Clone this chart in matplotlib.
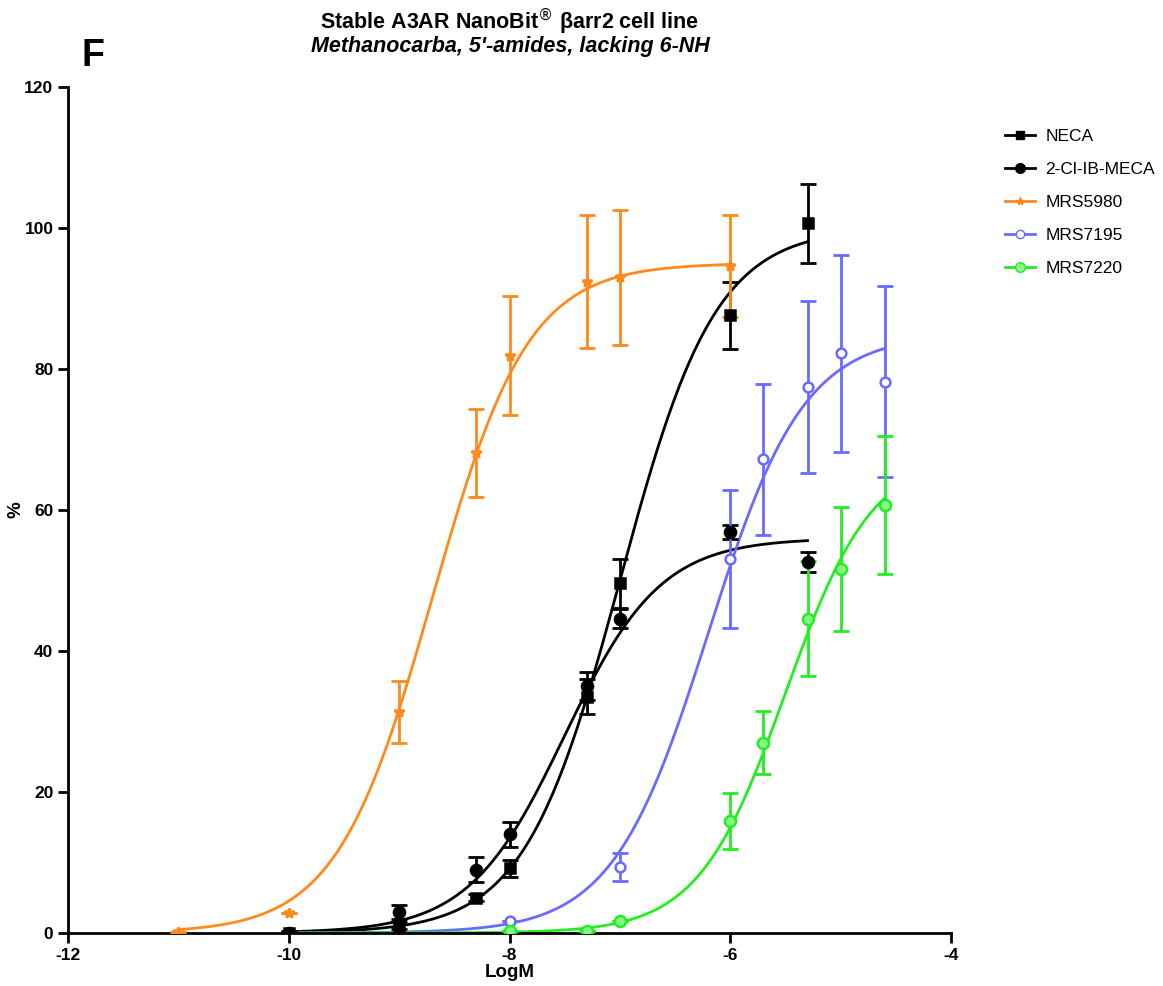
import numpy as np
import matplotlib
matplotlib.use('Agg')
import matplotlib.pyplot as plt

plt.rcParams['font.family'] = ['Liberation Sans', 'DejaVu Sans']
plt.rcParams['axes.unicode_minus'] = False

# measured points (x = log M, y = %, err = SEM)
neca_x = [-10, -9, -8.3, -8, -7.3, -7, -6, -5.3]
neca_y = [0, 1.0, 5.0, 9.2, 33.5, 49.6, 87.6, 100.7]
neca_e = [0.3, 0.5, 0.5, 1.2, 2.5, 3.5, 4.7, 5.6]

clib_x = [-10, -9, -8.3, -8, -7.3, -7, -6, -5.3]
clib_y = [0, 3.0, 9.0, 14.0, 35.0, 44.6, 56.9, 52.6]
clib_e = [0.3, 1.0, 1.8, 1.8, 2.0, 1.4, 1.0, 1.4]

m5980_x = [-11, -10, -9, -8.3, -8, -7.3, -7, -6]
m5980_y = [0.2, 2.8, 31.4, 68.1, 81.9, 92.4, 93.0, 94.6]
m5980_e = [0.0, 0.0, 4.4, 6.2, 8.5, 9.4, 9.6, 7.2]

m7195_x = [-8, -7, -6, -5.7, -5.3, -5, -4.6]
m7195_y = [1.7, 9.3, 53.0, 67.2, 77.4, 82.2, 78.2]
m7195_e = [0.0, 2.0, 9.8, 10.7, 12.2, 14.0, 13.5]

m7220_x = [-8, -7.3, -7, -6, -5.7, -5.3, -5, -4.6]
m7220_y = [0.3, 0.3, 1.7, 15.9, 27.0, 44.6, 51.6, 60.7]
m7220_e = [0.0, 0.0, 0.0, 4.0, 4.5, 8.1, 8.8, 9.8]

# fitted sigmoid parameters: bottom, top, logEC50, hill, x range of fit line
neca_fit = [0, 100, -7.0, 1.0, -10, -5.3]
clib_fit = [0, 56, -7.5, 1.0, -10, -5.3]
m5980_fit = [0, 95, -8.7, 1.0, -11, -6]
m7195_fit = [0, 85, -6.2, 1.0, -10, -4.6]
m7220_fit = [0, 68, -5.5, 1.1, -10, -4.6]


def hill(x, bottom, top, ec50, n):
    return bottom + (top - bottom) / (1 + 10 ** ((ec50 - x) * n))


series = [
    ('NECA', neca_x, neca_y, neca_e, neca_fit, 'black', 's', 'black', 7),
    ('2-Cl-IB-MECA', clib_x, clib_y, clib_e, clib_fit, 'black', 'o', 'black', 8),
    ('MRS5980', m5980_x, m5980_y, m5980_e, m5980_fit, '#ff8a1c', '*', '#ff8a1c', 7),
    ('MRS7195', m7195_x, m7195_y, m7195_e, m7195_fit, '#6a6aff', 'o', 'white', 7),
    ('MRS7220', m7220_x, m7220_y, m7220_e, m7220_fit, '#22ee22', 'o', '#88f588', 8),
]

fig = plt.figure(figsize=(11.63, 9.86), dpi=100)
ax = fig.add_axes([0.0585, 0.0538, 0.7592, 0.858])

for name, xs, ys, es, fit, col, mk, face, ms in series:
    b, t, ec, n, x0, x1 = fit
    xx = np.linspace(x0, x1, 300)
    ax.plot(xx, hill(xx, b, t, ec, n), color=col, lw=2, zorder=2)
    ax.errorbar(xs, ys, yerr=es, fmt='none', ecolor=col, elinewidth=2,
                capsize=6, capthick=2, zorder=3)
    ax.plot(xs, ys, linestyle='none', marker=mk, markersize=ms,
            markerfacecolor=face, markeredgecolor=col, markeredgewidth=1.8,
            zorder=4)
    ax.plot([], [], color=col, lw=2, marker=mk, markersize=ms - 1,
            markerfacecolor=face, markeredgecolor=col, label=name)

ax.set_xlim(-12, -4)
ax.set_ylim(0, 120)
ax.set_xticks([-12, -10, -8, -6, -4])
ax.set_yticks([0, 20, 40, 60, 80, 100, 120])
for s in ['top', 'right']:
    ax.spines[s].set_visible(False)
for s in ['left', 'bottom']:
    ax.spines[s].set_linewidth(2)
ax.tick_params(width=2, length=7, labelsize=12.5)
for lab in ax.get_xticklabels() + ax.get_yticklabels():
    lab.set_fontweight('bold')

ax.set_xlabel('LogM', fontsize=13.5, fontweight='bold', labelpad=1)
ax.set_ylabel('%', fontsize=13.5, fontweight='bold', labelpad=0)

fig.text(0.4385, 0.9716, 'Stable A3AR NanoBit$^{\\circledR}$ \u03b2arr2 cell line',
         ha='center', va='baseline', fontsize=15.5, fontweight='bold')
fig.text(0.4385, 0.947, "Methanocarba, 5'-amides, lacking 6-NH",
         ha='center', va='baseline', fontsize=15.5, fontweight='bold',
         style='italic')
fig.text(0.07, 0.933, 'F', fontsize=27, fontweight='bold', va='baseline')

fig.legend(loc='upper left', bbox_to_anchor=(0.851, 0.885), frameon=False,
           fontsize=12.5, handlelength=1.7, handletextpad=0.6,
           labelspacing=1.02)

fig.savefig('out.png', dpi=100)
